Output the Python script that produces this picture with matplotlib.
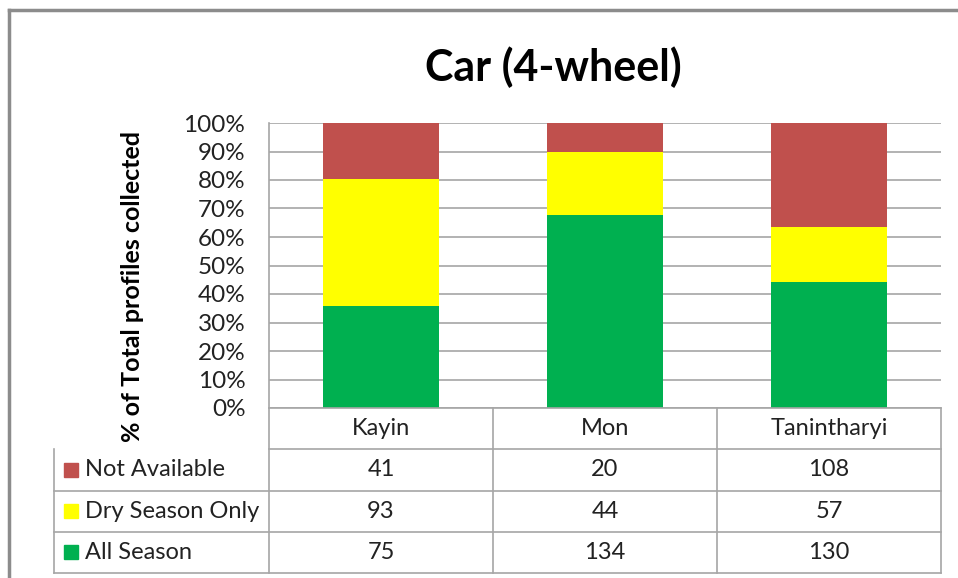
import matplotlib
matplotlib.use("Agg")
import matplotlib.pyplot as plt
from matplotlib.lines import Line2D
from matplotlib.patches import Rectangle
import numpy as np

# data
regions = ["Kayin", "Mon", "Tanintharyi"]
series = ["Not Available", "Dry Season Only", "All Season"]   # table order, top to bottom
not_available = [41, 20, 108]
dry_season = [93, 44, 57]
all_season = [75, 134, 130]
colors = {"Not Available": "#C0504D", "Dry Season Only": "#FFFF00", "All Season": "#00B050"}

plt.rcParams["font.family"] = ["Lato", "DejaVu Sans"]

W, H = 958, 578
fig = plt.figure(figsize=(W / 100, H / 100), dpi=100)

def fx(px):
    return px / W

def fy(py):
    return 1 - py / H

grid_col = "#A6A6A6"
txt_col = "#222222"
fs = 17

# plot area
left, right, top, bottom = 269, 941, 123, 408
ax = fig.add_axes([fx(left), fy(bottom), fx(right - left), (bottom - top) / H])

totals = np.array(all_season) + np.array(dry_season) + np.array(not_available)
x = np.arange(len(regions))
stack = [("All Season", all_season), ("Dry Season Only", dry_season), ("Not Available", not_available)]
base = np.zeros(len(regions))
for name, vals in stack:
    frac = np.array(vals) / totals
    ax.bar(x, frac, 0.515, bottom=base, color=colors[name], zorder=3)
    base += frac

ax.set_xlim(-0.5, 2.5)
ax.set_ylim(0, 1)
ticks = np.linspace(0, 1, 11)
ax.set_yticks(ticks)
ax.set_yticklabels([f"{int(round(t * 100))}%" for t in ticks], fontsize=17.5, color=txt_col)
ax.set_xticks([])
ax.tick_params(axis="y", length=0, pad=17)
ax.grid(axis="y", color=grid_col, linewidth=1.2, zorder=0)
for s in ["top", "right", "bottom"]:
    ax.spines[s].set_visible(False)
ax.spines["left"].set_color(grid_col)
ax.spines["left"].set_linewidth(1.2)

# title and y label
fig.text(fx(553), fy(67), "Car (4-wheel)", ha="center", va="center", fontsize=31, fontweight="bold")
fig.text(fx(132), fy(287), "% of Total profiles collected", ha="center", va="center",
         rotation=90, fontsize=18, fontweight="bold")

# data table below the chart
t_left, t_top, t_bot = 54, 408, 573
unit = (right - left) / 3
label_w = (left - t_left) / unit
tab = fig.add_axes([fx(t_left), fy(t_bot), fx(right - t_left), (t_bot - t_top) / H])
tab.set_xlim(-0.5 - label_w, 2.5)
tab.set_ylim(0, 4)
tab.axis("off")

lw = 1.2
tab.plot([-0.5, 2.5], [4, 4], color=grid_col, lw=lw, clip_on=False)
for r in range(4):
    x0 = -0.5 - label_w if r < 3 else -0.5
    tab.plot([x0, 2.5], [r, r], color=grid_col, lw=lw, clip_on=False)
tab.plot([-0.5 - label_w] * 2, [0, 3], color=grid_col, lw=lw, clip_on=False)
for c in range(4):
    tab.plot([c - 0.5] * 2, [0, 4], color=grid_col, lw=lw, clip_on=False)

for i, reg in enumerate(regions):
    tab.text(i, 3.5, reg, ha="center", va="center", fontsize=fs, color=txt_col)

rows = {"Not Available": not_available, "Dry Season Only": dry_season, "All Season": all_season}
sq = 14 / unit
for r, name in enumerate(series):
    yc = 2.5 - r
    tab.add_patch(Rectangle((-0.5 - label_w + 10 / unit, yc - 0.17), sq, 0.34,
                            color=colors[name], clip_on=False))
    tab.text(-0.5 - label_w + 31 / unit, yc, name, ha="left", va="center", fontsize=fs, color=txt_col)
    for i, v in enumerate(rows[name]):
        tab.text(i, yc, str(v), ha="center", va="center", fontsize=fs, color=txt_col)

# outer chart frame (left and top edges visible)
fig.add_artist(Line2D([fx(9), fx(9)], [fy(10), 0], color="#8C8C8C", lw=2.5))
fig.add_artist(Line2D([fx(9), 1], [fy(10), fy(10)], color="#8C8C8C", lw=2.5))

fig.savefig("out.png", dpi=100)
